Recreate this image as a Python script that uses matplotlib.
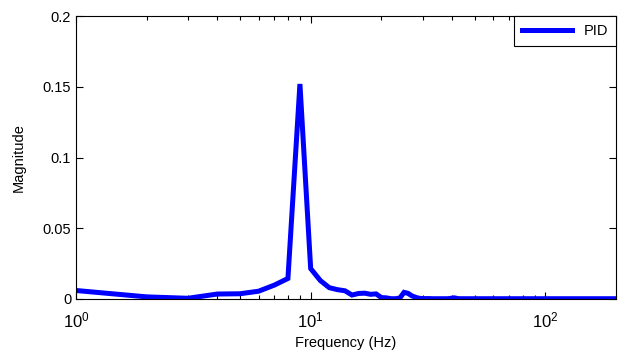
import numpy as np
import matplotlib
matplotlib.use("Agg")
import matplotlib.pyplot as plt

plt.rcParams['font.family'] = ['Liberation Sans', 'DejaVu Sans']
plt.rcParams['mathtext.fontset'] = 'custom'
plt.rcParams['mathtext.rm'] = 'Liberation Sans'
plt.rcParams['mathtext.it'] = 'Liberation Sans'

# frequency samples (Hz), one per integer from 1 to 200
freq = np.arange(1, 201)

# magnitude
mag_low = [0.0060, 0.0015, 0.0005, 0.0035, 0.0037, 0.0055, 0.0098, 0.0145, 0.1520, 0.0215,
           0.0130, 0.0080, 0.0066, 0.0058, 0.0028, 0.0039, 0.0041, 0.0033, 0.0036, 0.0010,
           0.0008, 0.0002, 0.0002, 0.0007, 0.0047, 0.0040, 0.0022, 0.0012, 0.0005, 0.0003,
           0.0003, 0.0003, 0.0002, 0.0002, 0.0002, 0.0002, 0.0002, 0.0002, 0.0003, 0.0006,
           0.0008, 0.0004]
mag_tail = [0.0002, 0.0002, 0.0002, 0.0002, 0.0002, 0.0002, 0.0002, 0.0002, 0.0002, 0.0002,
            0.0002, 0.0002, 0.0002, 0.0002, 0.0002, 0.0002, 0.0002, 0.0002, 0.0002, 0.0002,
            0.0002, 0.0002, 0.0002, 0.0002, 0.0002, 0.0002, 0.0002, 0.0002, 0.0002, 0.0002,
            0.0002, 0.0002, 0.0002, 0.0002, 0.0002, 0.0002, 0.0002, 0.0002, 0.0002, 0.0002,
            0.0002, 0.0002, 0.0002, 0.0002, 0.0002, 0.0002, 0.0002, 0.0002, 0.0002, 0.0002,
            0.0002, 0.0002, 0.0002, 0.0002, 0.0002, 0.0002, 0.0002, 0.0002, 0.0002, 0.0002,
            0.0002, 0.0002, 0.0002, 0.0002, 0.0002, 0.0002, 0.0002, 0.0002, 0.0002, 0.0002,
            0.0002, 0.0002, 0.0002, 0.0002, 0.0002, 0.0002, 0.0002, 0.0002, 0.0002, 0.0002,
            0.0002, 0.0002, 0.0002, 0.0002, 0.0002, 0.0002, 0.0002, 0.0002, 0.0002, 0.0002,
            0.0002, 0.0002, 0.0002, 0.0002, 0.0002, 0.0002, 0.0002, 0.0002, 0.0002, 0.0002,
            0.0002, 0.0002, 0.0002, 0.0002, 0.0002, 0.0002, 0.0002, 0.0002, 0.0002, 0.0002,
            0.0002, 0.0002, 0.0002, 0.0002, 0.0002, 0.0002, 0.0002, 0.0002, 0.0002, 0.0002,
            0.0002, 0.0002, 0.0002, 0.0002, 0.0002, 0.0002, 0.0002, 0.0002, 0.0002, 0.0002,
            0.0002, 0.0002, 0.0002, 0.0002, 0.0002, 0.0002, 0.0002, 0.0002, 0.0002, 0.0002,
            0.0002, 0.0002, 0.0002, 0.0002, 0.0002, 0.0002, 0.0002, 0.0002, 0.0002, 0.0002,
            0.0002, 0.0002, 0.0002, 0.0002, 0.0002, 0.0002, 0.0002, 0.0002]
mag = np.array(mag_low + mag_tail)

yticks = [0, 0.05, 0.1, 0.15, 0.2]
ytick_labels = ["0", "0.05", "0.1", "0.15", "0.2"]
xticks = [1, 10, 100]
xtick_labels = [r"$10^{0}$", r"$10^{1}$", r"$10^{2}$"]

fig = plt.figure(figsize=(6.36, 3.57), dpi=100)
ax = fig.add_axes([0.1195, 0.1625, 0.849, 0.7925])

ax.plot(freq, mag, color="#0000ff", lw=3.6, label="PID", solid_joinstyle="miter")
ax.set_xscale("log")
ax.set_xlim(1, 200)
ax.set_ylim(0, 0.2)
ax.set_yticks(yticks)
ax.set_yticklabels(ytick_labels)
ax.set_xticks(xticks)
ax.set_xticklabels(xtick_labels)

ax.tick_params(which="both", direction="in", top=True, right=True, labelsize=10.5)
ax.tick_params(which="major", length=5, width=0.8)
ax.tick_params(which="minor", length=3, width=0.8)
ax.tick_params(axis="x", pad=8, labelsize=12)
for s in ax.spines.values():
    s.set_linewidth(0.8)

ax.set_xlabel("Frequency (Hz)", fontsize=10.5, labelpad=4)
ax.set_ylabel("Magnitude", fontsize=10.5, labelpad=12)

leg = ax.legend(loc="upper right", fancybox=False, framealpha=1, edgecolor="black",
                fontsize=10.5, borderaxespad=0, handlelength=3.4, borderpad=0.55)
leg.get_frame().set_linewidth(0.8)

fig.savefig("out.png", dpi=100)
